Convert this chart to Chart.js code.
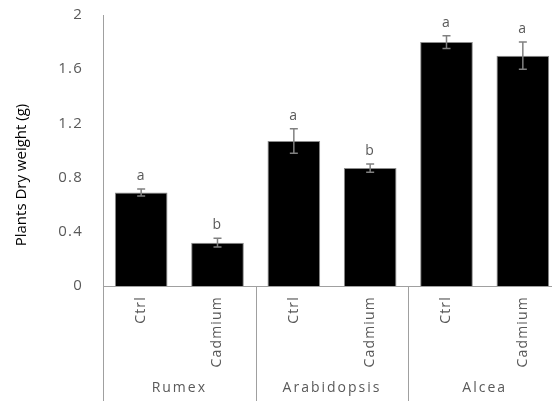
<!DOCTYPE html>
<html>
<head>
<meta charset="utf-8">
<script src="https://cdn.jsdelivr.net/npm/chart.js@4/dist/chart.umd.min.js"></script>
<style>
  html, body { margin: 0; padding: 0; background: #fff; overflow: hidden; }
  #wrap { width: 562px; height: 401px; }
</style>
</head>
<body>
<div id="wrap"><canvas id="c" width="562" height="401"></canvas></div>
<script>
// Plant dry weight per species and treatment
const groups = ['Rumex', 'Arabidopsis', 'Alcea'];
const categories = ['Ctrl', 'Cadmium', 'Ctrl', 'Cadmium', 'Ctrl', 'Cadmium'];
const dryWeight = [0.69, 0.32, 1.07, 0.87, 1.80, 1.70];
const errors = [0.025, 0.033, 0.09, 0.03, 0.047, 0.10];
const letters = ['a', 'b', 'a', 'b', 'a', 'a'];
const yTicks = [0, 0.4, 0.8, 1.2, 1.6, 2];
const yTitle = 'Plants Dry weight (g)';

const FONT = '"Open Sans", "Liberation Sans", sans-serif';
const GREY = '#595959';
const AXIS = '#a0a0a0';

// Slightly open letter spacing for all chart text
const spacing = {
  id: 'spacing',
  beforeDraw(chart) { chart.ctx.letterSpacing = '1.2px'; }
};

// Error bars, significance letters, group separators and axis title
const decor = {
  id: 'decor',
  afterDatasetsDraw(chart) {
    const ctx = chart.ctx;
    const x = chart.scales.x, y = chart.scales.y;
    const area = chart.chartArea;
    ctx.save();
    // error bars
    ctx.strokeStyle = '#808080';
    ctx.lineWidth = 1.5;
    dryWeight.forEach((v, i) => {
      const cx = x.getPixelForValue(i);
      const top = y.getPixelForValue(v + errors[i]);
      const bot = y.getPixelForValue(v - errors[i]);
      ctx.beginPath();
      ctx.moveTo(cx, top); ctx.lineTo(cx, bot);
      ctx.moveTo(cx - 4, top); ctx.lineTo(cx + 4, top);
      ctx.moveTo(cx - 4, bot); ctx.lineTo(cx + 4, bot);
      ctx.stroke();
      // letters
      ctx.fillStyle = GREY;
      ctx.font = '14px ' + FONT;
      ctx.textAlign = 'center';
      ctx.textBaseline = 'middle';
      ctx.fillText(letters[i], cx, top - 13);
    });
    // axis lines and group separators
    ctx.strokeStyle = AXIS;
    ctx.lineWidth = 1;
    const bottom = chart.height;
    const base = Math.round(area.bottom) + 0.5;
    ctx.beginPath();
    ctx.moveTo(Math.round(area.left) + 0.5, area.top);
    ctx.lineTo(Math.round(area.left) + 0.5, bottom);
    for (let g = 1; g < groups.length; g++) {
      const a = x.getPixelForValue(g * 2 - 1), b = x.getPixelForValue(g * 2);
      const px = Math.round((a + b) / 2) + 0.5;
      ctx.moveTo(px, base);
      ctx.lineTo(px, bottom);
    }
    ctx.moveTo(area.left, base);
    ctx.lineTo(area.right, base);
    ctx.stroke();
    // group labels
    ctx.fillStyle = GREY;
    ctx.font = '14px ' + FONT;
    ctx.letterSpacing = '2px';
    ctx.textAlign = 'center';
    ctx.textBaseline = 'middle';
    groups.forEach((g, k) => {
      const a = x.getPixelForValue(k * 2), b = x.getPixelForValue(k * 2 + 1);
      ctx.fillText(g, (a + b) / 2, 388);
    });
    // y axis title
    ctx.fillStyle = '#000';
    ctx.font = '15px ' + FONT;
    ctx.letterSpacing = '0px';
    ctx.translate(22, 175);
    ctx.rotate(-Math.PI / 2);
    ctx.fillText(yTitle, 0, 0);
    ctx.restore();
  }
};

new Chart(document.getElementById('c'), {
  type: 'bar',
  data: {
    labels: categories,
    datasets: [{
      data: dryWeight,
      backgroundColor: '#000',
      borderColor: '#8c8c8c',
      borderWidth: 1,
      barPercentage: 0.69,
      categoryPercentage: 1
    }]
  },
  options: {
    responsive: false,
    devicePixelRatio: 1,
    animation: false,
    layout: { padding: { top: 15, right: 1, left: 0, bottom: 0 } },
    plugins: { legend: { display: false }, tooltip: { enabled: false }, title: { display: false } },
    scales: {
      y: {
        min: 0, max: 2,
        afterFit(s) { s.width = 103; s.paddingTop = 0; s.paddingBottom = 0; },
        afterBuildTicks(s) { s.ticks = yTicks.map(v => ({ value: v })); },
        grid: { display: false, drawTicks: false },
        border: { display: false },
        ticks: {
          padding: 20,
          color: GREY,
          font: { family: FONT, size: 15 },
          callback: v => String(v)
        }
      },
      x: {
        afterFit(s) { s.height = 115; s.paddingLeft = 0; s.paddingRight = 0; },
        grid: { display: false, drawTicks: false },
        border: { display: false },
        ticks: {
          minRotation: 90, maxRotation: 90,
          padding: 10,
          color: GREY,
          font: { family: FONT, size: 14 }
        }
      }
    }
  },
  plugins: [spacing, decor]
});
</script>
</body>
</html>
